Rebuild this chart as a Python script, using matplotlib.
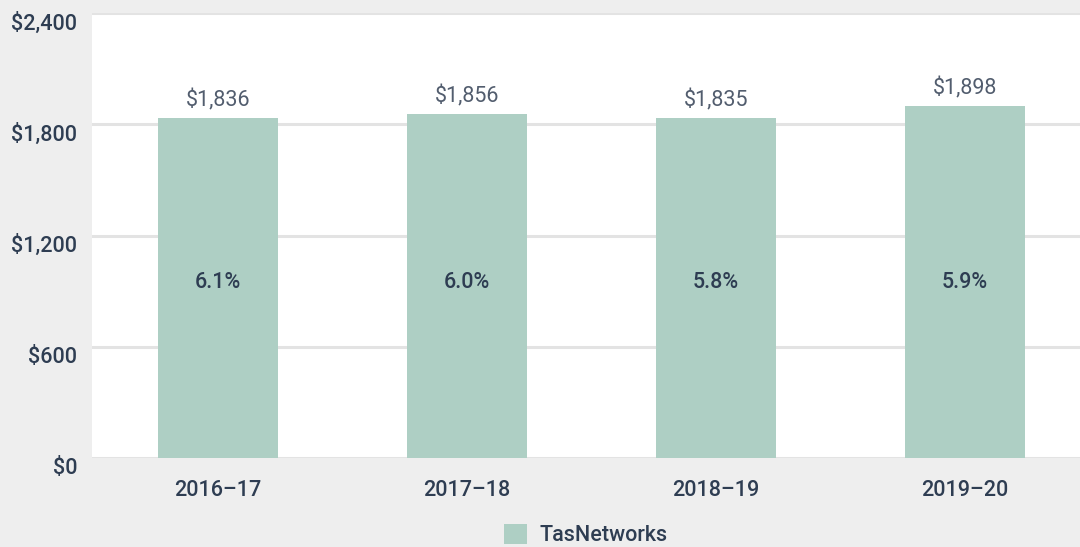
import matplotlib.pyplot as plt
import matplotlib.transforms as mtransforms
from matplotlib.patches import Patch

years = ['2016–17', '2017–18', '2018–19', '2019–20']
costs = [1836, 1856, 1835, 1898]
shares = ['6.1%', '6.0%', '5.8%', '5.9%']
yticks = [0, 600, 1200, 1800, 2400]
ytick_labels = ['$0', '$600', '$1,200', '$1,800', '$2,400']

bar_color = '#aecfc4'
text_color = '#2e3d52'
bg_color = '#eeeeee'

plt.rcParams['font.family'] = ['Roboto', 'DejaVu Sans']

fig = plt.figure(figsize=(10.8, 5.47), dpi=100, facecolor=bg_color)
ax = fig.add_axes([0.0852, 0.1627, 0.9148, 0.8133])
ax.set_facecolor('white')

x = list(range(len(years)))
ax.bar(x, costs, width=0.485, color=bar_color, zorder=3)

# percentages sit at roughly the same height inside each bar
pct_trans = mtransforms.blended_transform_factory(ax.transData, ax.transAxes)
for i, v in enumerate(costs):
    ax.text(i, v + 35, f'${v:,}', ha='center', va='bottom', fontsize=15.5,
            color='#525d6e', fontweight='normal')
    ax.text(i, 0.395, shares[i], ha='center', va='center', fontsize=15.5,
            color=text_color, fontweight='medium', transform=pct_trans)

ax.set_xlim(-0.506, 3.462)
ax.set_ylim(0, 2400)
ax.set_yticks(yticks)
ax.set_yticklabels(ytick_labels, fontsize=15.5, color=text_color, fontweight='medium')
ax.set_xticks(x)
ax.set_xticklabels(years, fontsize=15.5, color=text_color, fontweight='medium')
ax.tick_params(axis='both', length=0)
ax.tick_params(axis='y', pad=10.5)
ax.tick_params(axis='x', pad=16)

offset = mtransforms.ScaledTranslation(0, -8 / 100, fig.dpi_scale_trans)
for lbl in ax.get_yticklabels():
    lbl.set_transform(lbl.get_transform() + offset)

ax.grid(axis='y', color='#e3e3e3', linewidth=2.2, zorder=0)
for s in ax.spines.values():
    s.set_visible(False)

handles = [Patch(facecolor=bar_color, label='TasNetworks')]
leg = fig.legend(handles=handles, loc='lower center', bbox_to_anchor=(0.542, -0.034),
                 frameon=False, handlelength=1.1, handleheight=1.1,
                 handletextpad=0.55, prop={'weight': 'medium', 'size': 15.5})
for t in leg.get_texts():
    t.set_color(text_color)

fig.savefig('out.png', dpi=100, facecolor=bg_color)
